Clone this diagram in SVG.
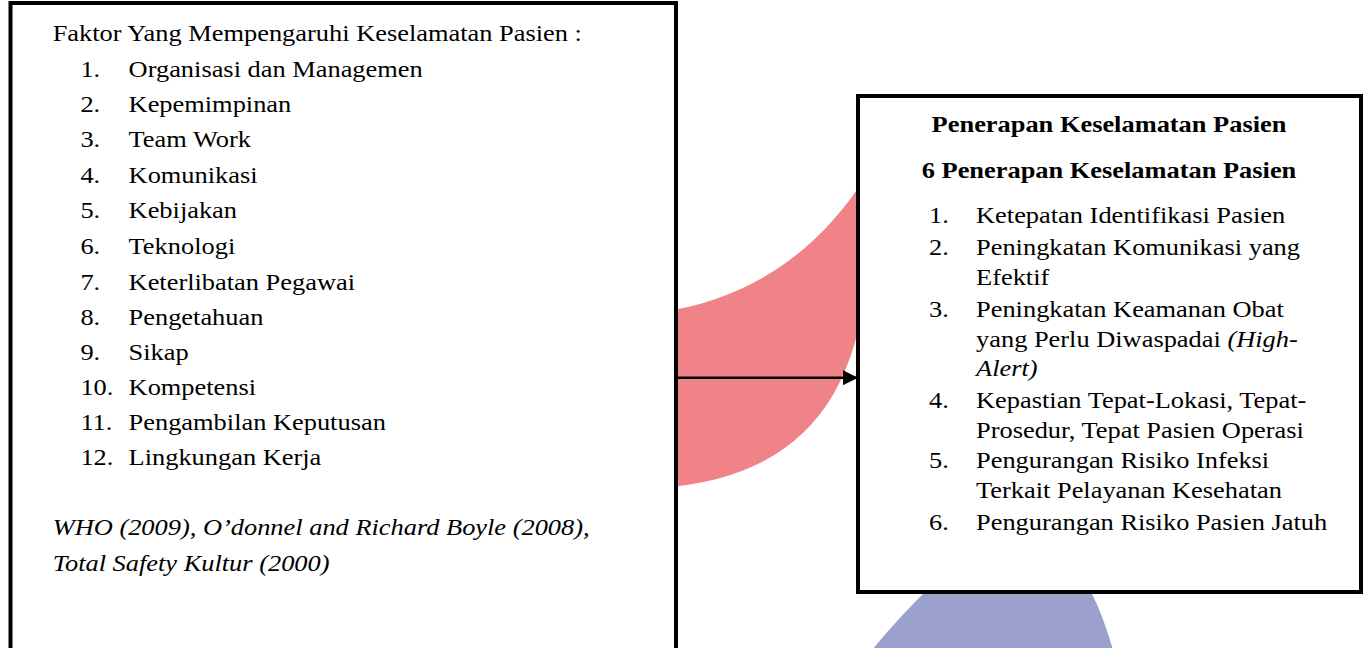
<svg xmlns="http://www.w3.org/2000/svg" width="1368" height="648" viewBox="0 0 1368 648">
<style>
.box{fill:#fff;stroke:#000;stroke-width:4}
.t{font-family:"Liberation Serif","Times New Roman",serif;font-size:24px;fill:#000}
.b{font-weight:bold}
.i{font-style:italic}
.pink{fill:#F08388}
.blue{fill:#9BA0CD}
.conn{stroke:#000;stroke-width:2.5;fill:none}
</style>
<defs>
<marker id="ah" viewBox="0 0 10 10" refX="10" refY="5" markerWidth="15" markerHeight="15" markerUnits="userSpaceOnUse" orient="auto">
<path d="M0,0 L10,5 L0,10 Z" fill="#000"/>
</marker>
</defs>
<g id="decor">
<path class="pink" d="M660,312 C750,300 820,250 866,176 L866,285 C852,410 790,478 660,488 Z"/>
<path class="blue" d="M935,582 L1085,582 Q1100,605 1113,650 L872,650 Q898,618 935,582 Z"/>
</g>
<g id="node-faktor">
<rect class="box" x="10.5" y="3" width="665.5" height="700"/>
<g transform="scale(1.1,1)" class="t">
<text x="47.9" y="41">Faktor Yang Mempengaruhi Keselamatan Pasien :</text>
<text x="73.1" y="77">1.</text><text x="116.9" y="77">Organisasi dan Managemen</text>
<text x="73.1" y="112">2.</text><text x="116.9" y="112">Kepemimpinan</text>
<text x="73.1" y="147">3.</text><text x="116.9" y="147">Team Work</text>
<text x="73.1" y="183">4.</text><text x="116.9" y="183">Komunikasi</text>
<text x="73.1" y="218">5.</text><text x="116.9" y="218">Kebijakan</text>
<text x="73.1" y="254">6.</text><text x="116.9" y="254">Teknologi</text>
<text x="73.1" y="290">7.</text><text x="116.9" y="290">Keterlibatan Pegawai</text>
<text x="73.1" y="325">8.</text><text x="116.9" y="325">Pengetahuan</text>
<text x="73.1" y="360">9.</text><text x="116.9" y="360">Sikap</text>
<text x="73.1" y="395">10.</text><text x="116.9" y="395">Kompetensi</text>
<text x="73.1" y="430">11.</text><text x="116.9" y="430">Pengambilan Keputusan</text>
<text x="73.1" y="465">12.</text><text x="116.9" y="465">Lingkungan Kerja</text>
<text class="i" x="47.9" y="535">WHO (2009), O’donnel and Richard Boyle (2008),</text>
<text class="i" x="47.9" y="571">Total Safety Kultur (2000)</text>
</g>
</g>
<g id="node-penerapan">
<rect class="box" x="858" y="96" width="503" height="496"/>
<g transform="scale(1.1,1)" class="t">
<text class="b" x="1008.2" y="132" text-anchor="middle">Penerapan Keselamatan Pasien</text>
<text class="b" x="1008.2" y="178" text-anchor="middle">6 Penerapan Keselamatan Pasien</text>
<text x="844.5" y="223">1.</text><text x="887.3" y="223">Ketepatan Identifikasi Pasien</text>
<text x="844.5" y="255">2.</text><text x="887.3" y="255">Peningkatan Komunikasi yang</text>
<text x="887.3" y="285">Efektif</text>
<text x="844.5" y="317">3.</text><text x="887.3" y="317">Peningkatan Keamanan Obat</text>
<text x="887.3" y="347">yang Perlu Diwaspadai <tspan class="i">(High-</tspan></text>
<text class="i" x="887.3" y="376">Alert)</text>
<text x="844.5" y="408">4.</text><text x="887.3" y="408">Kepastian Tepat-Lokasi, Tepat-</text>
<text x="887.3" y="438">Prosedur, Tepat Pasien Operasi</text>
<text x="844.5" y="468">5.</text><text x="887.3" y="468">Pengurangan Risiko Infeksi</text>
<text x="887.3" y="498">Terkait Pelayanan Kesehatan</text>
<text x="844.5" y="530">6.</text><text x="887.3" y="530">Pengurangan Risiko Pasien Jatuh</text>
</g>
</g>
<g id="connectors">
<line class="conn" x1="678" y1="377.7" x2="858" y2="377.7" marker-end="url(#ah)"/>
</g>
</svg>
